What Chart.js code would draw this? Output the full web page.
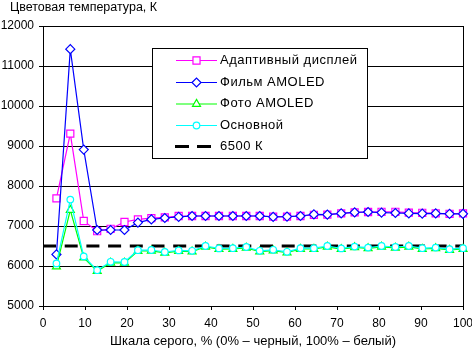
<!DOCTYPE html>
<html>
<head>
<meta charset="utf-8">
<script src="https://cdn.jsdelivr.net/npm/chart.js@4/dist/chart.umd.min.js"></script>
<style>
  html, body { margin: 0; padding: 0; background: #fff; }
</style>
</head>
<body>
<canvas id="chart" width="472" height="349"></canvas>
<script>
// gray scale steps, % (0% = black, 100% = white)
const grayLevels = [3.2, 6.5, 9.7, 12.9, 16.1, 19.4, 22.6, 25.8, 29.0, 32.3, 35.5,
                    38.7, 41.9, 45.2, 48.4, 51.6, 54.8, 58.1, 61.3, 64.5, 67.7, 71.0,
                    74.2, 77.4, 80.6, 83.9, 87.1, 90.3, 93.5, 96.8, 100];

// colour temperature, K
const adaptiveDisplay = [7690, 9310, 7125, 6870, 6930, 7100, 7165, 7195, 7215, 7250, 7250,
                         7250, 7250, 7250, 7250, 7250, 7235, 7235, 7250, 7280, 7285,
                         7315, 7340, 7350, 7355, 7355, 7335, 7330, 7315, 7305, 7315];
const filmAmoled = [6290, 11420, 8910, 6900, 6900, 6900, 7085, 7165, 7200, 7230, 7250,
                    7250, 7250, 7250, 7250, 7250, 7230, 7235, 7250, 7290, 7285,
                    7315, 7340, 7350, 7335, 7325, 7315, 7310, 7315, 7305, 7305];
const photoAmoled = [5985, 7400, 6210, 5870, 6080, 6080, 6375, 6380, 6330, 6370, 6360,
                     6480, 6420, 6425, 6455, 6360, 6385, 6335, 6425, 6425, 6480,
                     6420, 6465, 6440, 6480, 6455, 6480, 6425, 6440, 6400, 6425];
const basicMode = [6065, 7660, 6240, 5895, 6105, 6100, 6395, 6400, 6350, 6390, 6380,
                   6500, 6440, 6445, 6475, 6380, 6405, 6355, 6445, 6445, 6500,
                   6440, 6485, 6460, 6500, 6475, 6500, 6445, 6460, 6420, 6445];
const referenceTemp = 6500;

const seriesNames = ['Адаптивный дисплей', 'Фильм AMOLED', 'Фото AMOLED', 'Основной', '6500 К'];
const xRange = [0, 100, 10];
const yRange = [5000, 12000, 1000];
const yTitle = 'Цветовая температура, К';
const xTitle = 'Шкала серого, % (0% – черный, 100% – белый)';

const FONT = '"Liberation Sans", Arial, sans-serif';

const toPoints = (vals) => vals.map((v, i) => ({ x: grayLevels[i], y: v }));

const lineSeries = [
    { data: adaptiveDisplay, color: '#ff00ff', style: 'rect', radius: 5, order: 4 },
    { data: filmAmoled, color: '#0000ff', style: 'rectRot', radius: 4.5, order: 3 },
    { data: photoAmoled, color: '#00ff00', style: 'triangle', radius: 4.6, order: 2 },
    { data: basicMode, color: '#00ffff', style: 'circle', radius: 3.3, order: 1 }
];

const datasets = lineSeries.map((s, i) => ({
    label: seriesNames[i],
    data: toPoints(s.data),
    borderColor: s.color,
    borderWidth: 1.2,
    pointStyle: s.style,
    pointRadius: s.radius,
    pointBackgroundColor: '#fff',
    pointBorderColor: s.color,
    pointBorderWidth: 1.2,
    tension: 0,
    clip: false,
    order: s.order
}));

// dashed 6500 K reference
datasets.push({
    label: seriesNames[4],
    data: [{ x: xRange[0], y: referenceTemp }, { x: xRange[1], y: referenceTemp }],
    borderColor: '#000',
    borderWidth: 3,
    borderDash: [13, 8.7],
    pointRadius: 0,
    clip: false,
    order: 5
});

// legend box + axis titles drawn by hand (legend sits inside the plot)
const extrasPlugin = {
    id: 'extras',
    afterDraw(chart) {
        const ctx = chart.ctx;
        ctx.save();
        ctx.fillStyle = '#000';
        ctx.textBaseline = 'middle';

        ctx.font = '12.5px ' + FONT;
        ctx.textAlign = 'left';
        ctx.fillText(yTitle, 10, 8);
        ctx.font = '13px ' + FONT;
        ctx.textAlign = 'center';
        ctx.fillText(xTitle, 253, 341);

        // legend
        const box = { x: 152.5, y: 48.5, w: 215, h: 110 };
        ctx.fillStyle = '#fff';
        ctx.fillRect(box.x, box.y, box.w, box.h);
        ctx.strokeStyle = '#000';
        ctx.lineWidth = 1;
        ctx.strokeRect(box.x, box.y, box.w, box.h);

        const rowY = [60, 82, 103.5, 125, 146.5];
        ctx.textAlign = 'left';
        ctx.font = '13px ' + FONT;
        ctx.letterSpacing = '0.5px';
        lineSeries.forEach((s, i) => {
            const y = rowY[i];
            ctx.strokeStyle = s.color;
            ctx.lineWidth = 1.2;
            ctx.setLineDash([]);
            ctx.beginPath();
            ctx.moveTo(176, y + 0.5);
            ctx.lineTo(217, y + 0.5);
            ctx.stroke();
            ctx.fillStyle = '#fff';
            Chart.helpers.drawPoint(ctx, { pointStyle: s.style, radius: s.radius, rotation: 0, borderWidth: 1 }, 196.5, y + 0.5);
            ctx.fillStyle = '#000';
            ctx.fillText(seriesNames[i], 220, y);
        });
        const yd = rowY[4];
        ctx.strokeStyle = '#000';
        ctx.lineWidth = 3;
        ctx.setLineDash([14, 8]);
        ctx.beginPath();
        ctx.moveTo(175, yd);
        ctx.lineTo(211, yd);
        ctx.stroke();
        ctx.setLineDash([]);
        ctx.fillStyle = '#000';
        ctx.fillText(seriesNames[4], 220, yd);
        ctx.restore();
    }
};

Chart.defaults.font.family = FONT;
Chart.defaults.font.size = 12;
Chart.defaults.color = '#000';

new Chart(document.getElementById('chart'), {
    type: 'line',
    data: { datasets: datasets },
    options: {
        responsive: false,
        animation: false,
        devicePixelRatio: 1,
        layout: { padding: { left: 0, top: 26, right: 9, bottom: 0 } },
        plugins: {
            legend: { display: false },
            tooltip: { enabled: false },
            title: { display: false }
        },
        scales: {
            x: {
                type: 'linear',
                min: xRange[0],
                max: xRange[1],
                ticks: { stepSize: xRange[2], padding: 6, maxRotation: 0, autoSkip: false },
                grid: {
                    color: (c) => (c.tick && c.tick.value === xRange[1]) ? '#000' : 'rgba(0,0,0,0)',
                    tickColor: '#000',
                    tickLength: 4,
                    lineWidth: 1
                },
                border: { display: true, color: '#000', width: 1 },
                afterFit(scale) {
                    scale.height = 43;
                    scale.paddingLeft = 0;
                    scale.paddingRight = 0;
                }
            },
            y: {
                type: 'linear',
                min: yRange[0],
                max: yRange[1],
                ticks: { stepSize: yRange[2], padding: 5, callback: (v) => String(v) },
                grid: { color: '#000', tickColor: '#000', tickLength: 4, lineWidth: 1 },
                border: { display: true, color: '#000', width: 1 },
                afterFit(scale) {
                    scale.width = 43;
                    scale.paddingTop = 0;
                    scale.paddingBottom = 0;
                }
            }
        }
    },
    plugins: [extrasPlugin]
});
</script>
</body>
</html>
